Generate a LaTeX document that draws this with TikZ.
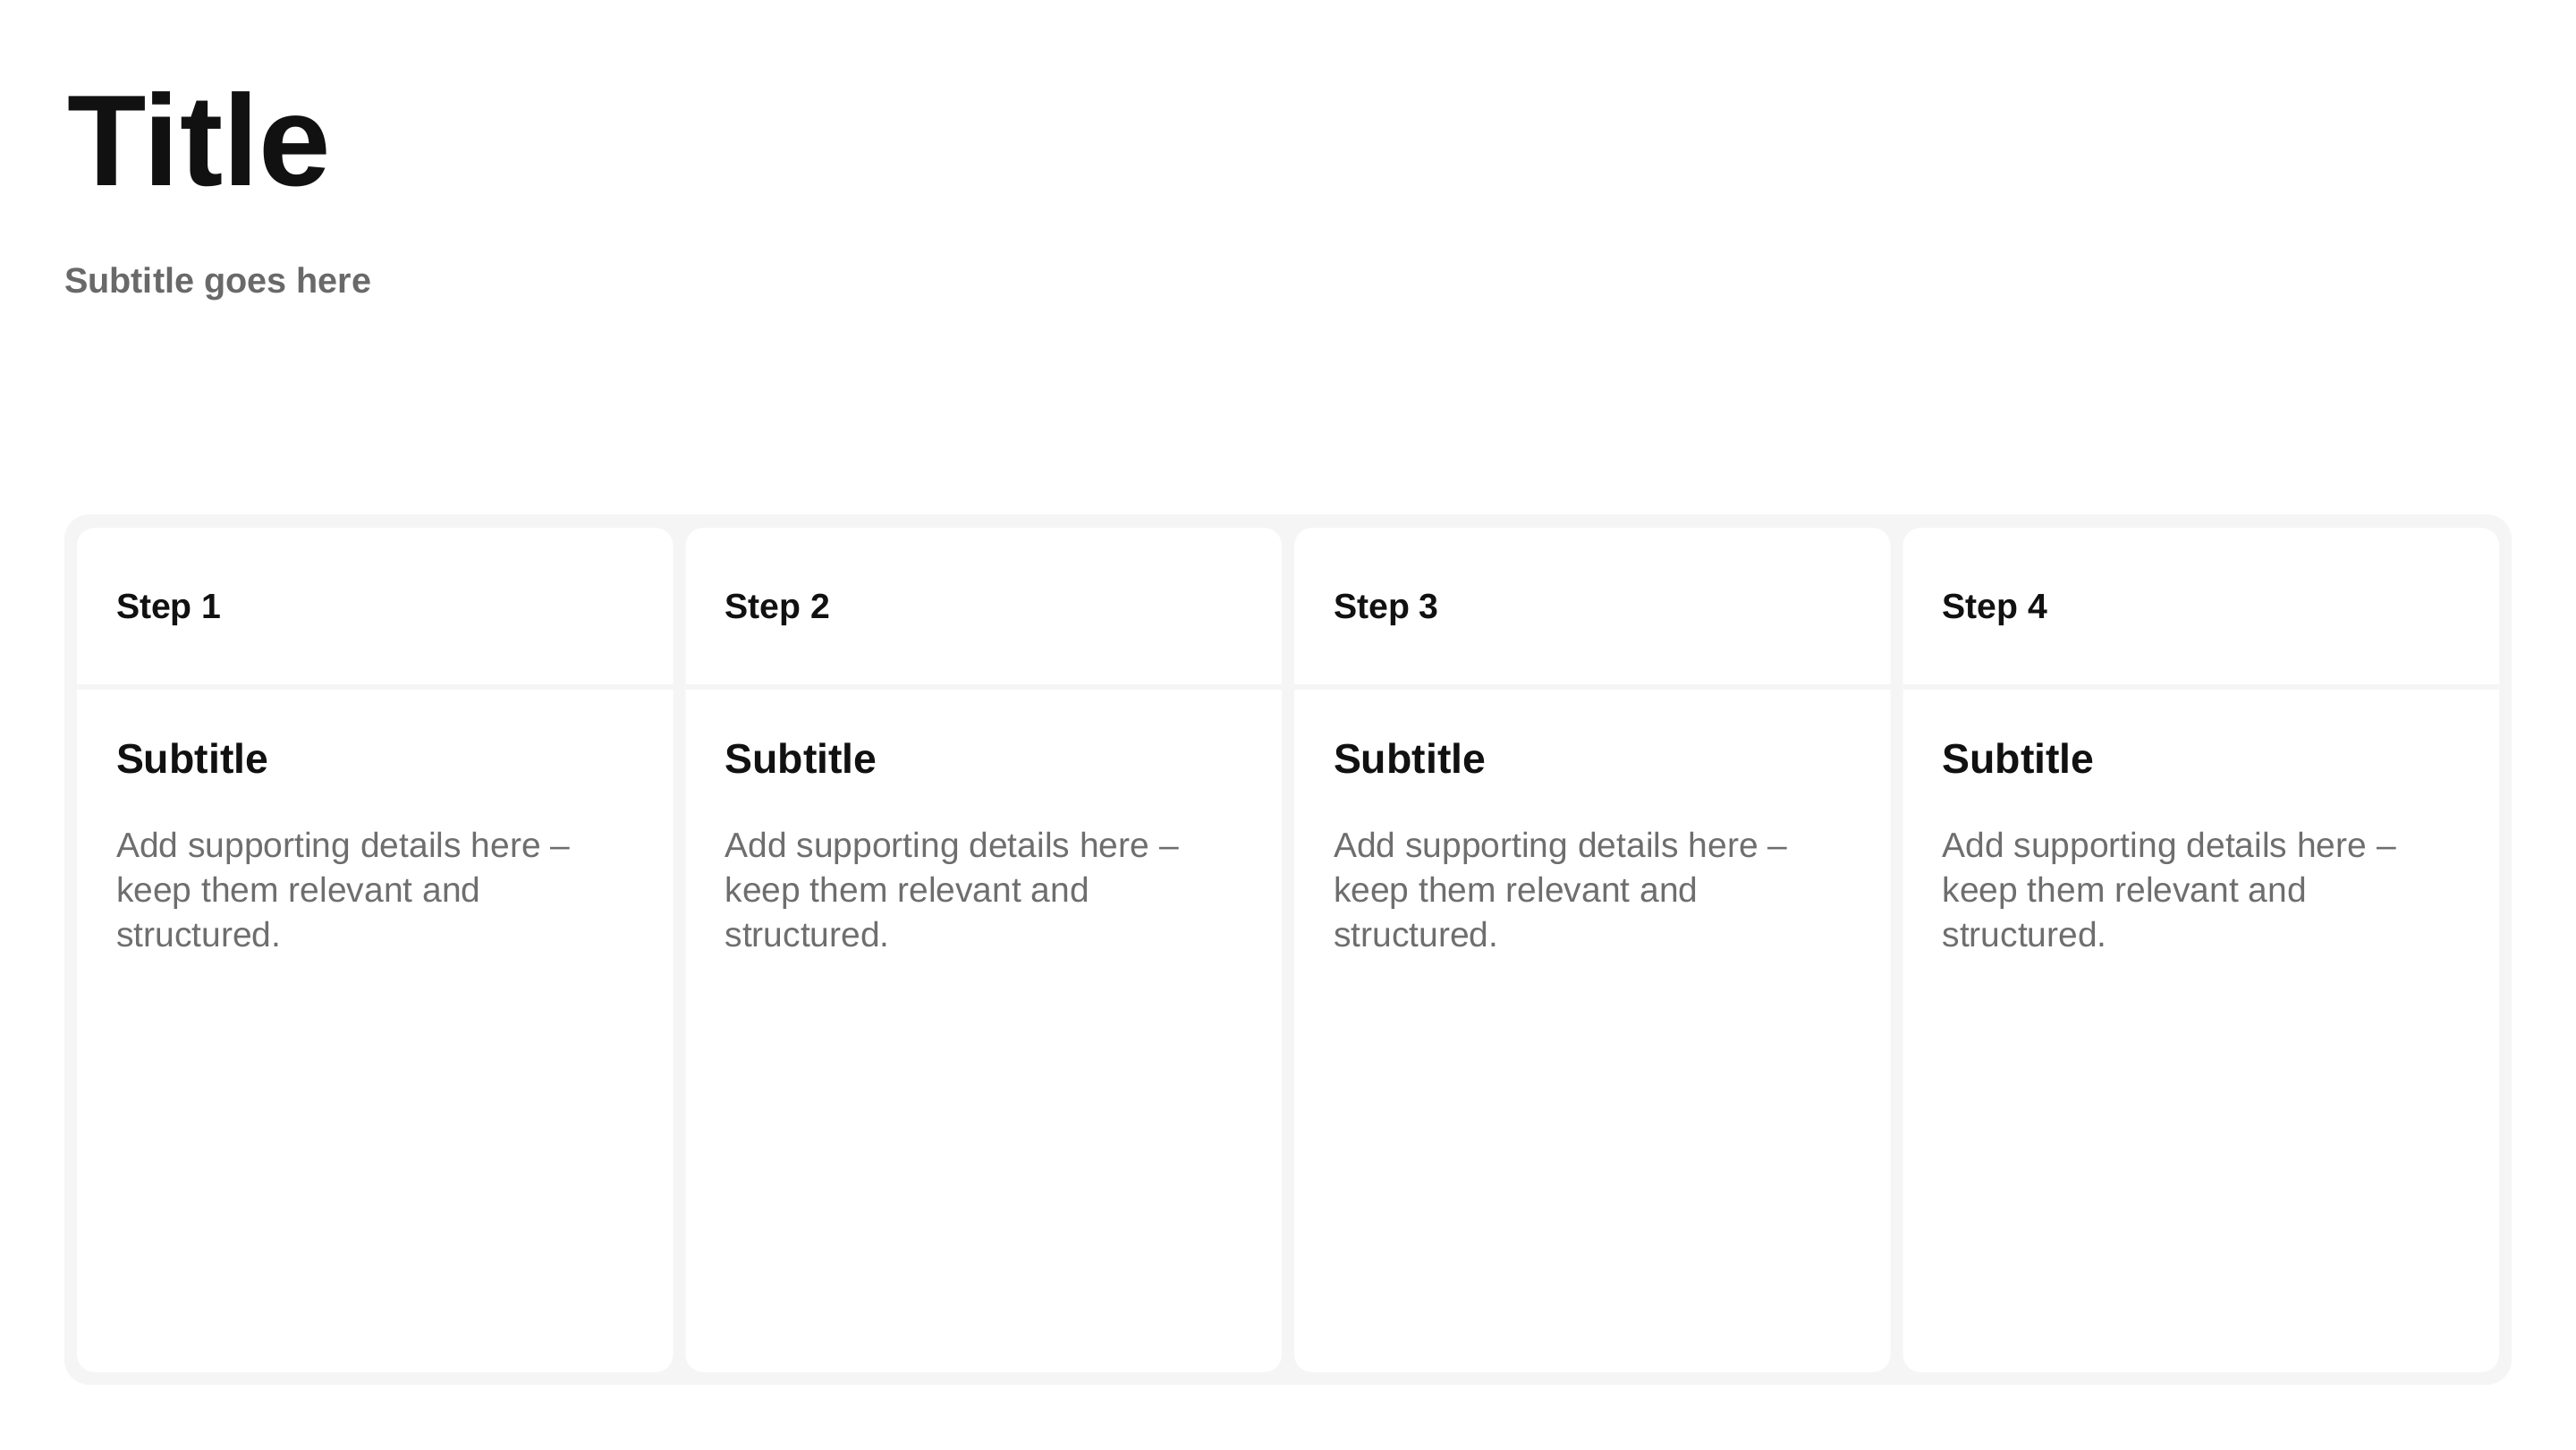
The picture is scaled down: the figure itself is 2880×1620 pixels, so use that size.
\documentclass[tikz,border=0pt]{standalone}
\usepackage{fontspec}
\setmainfont{Liberation Sans}
\definecolor{panelgray}{HTML}{F5F5F5}
\definecolor{inkdark}{HTML}{111111}
\definecolor{inkgray}{HTML}{6E6E6E}
\tikzset{
  txt/.style={anchor=base west, inner sep=0pt, outer sep=0pt},
  titletxt/.style={txt, text=inkdark, font=\fontsize{36.2}{42}\selectfont\bfseries},
  subtxt/.style={txt, text=inkgray!95!black, font=\fontsize{9.9}{12}\selectfont\bfseries},
  steptxt/.style={txt, text=inkdark, font=\fontsize{9.8}{12}\selectfont\bfseries},
  cardsub/.style={txt, text=inkdark, font=\fontsize{11.6}{14}\selectfont\bfseries},
  bodytxt/.style={txt, text=inkgray, font=\fontsize{9.75}{12.5}\selectfont},
  panel/.style={fill=panelgray, rounded corners=7pt},
  cardbox/.style={fill=white, rounded corners=5pt},
  divider/.style={fill=panelgray}
}
\begin{document}
\begin{tikzpicture}[x=0.25pt,y=-0.25pt]
\fill[white] (0,0) rectangle (2880,1620);
\useasboundingbox (0,0) rectangle (2880,1620);
\node[titletxt] (title) at (75,207) {Title};
\node[subtxt] (subtitle) at (72,327) {Subtitle goes here};
\fill[panel] (72,575) rectangle (2808,1548);
\foreach \i in {1,...,4} {
  \pgfmathsetmacro\cx{86+(\i-1)*680.5}
  \fill[cardbox] (\cx,590) rectangle ++(666.5,944);
  \fill[divider] (\cx,765) rectangle ++(666.5,6);
  \node[steptxt] (step\i) at (\cx+44,691) {Step \i};
  \node[cardsub] (csub\i) at (\cx+44,864) {Subtitle};
  \node[bodytxt] (bodya\i) at (\cx+44,958) {Add supporting details here –};
  \node[bodytxt] (bodyb\i) at (\cx+44,1008) {keep them relevant and};
  \node[bodytxt] (bodyc\i) at (\cx+44,1058) {structured.};
}
\end{tikzpicture}
\end{document}
